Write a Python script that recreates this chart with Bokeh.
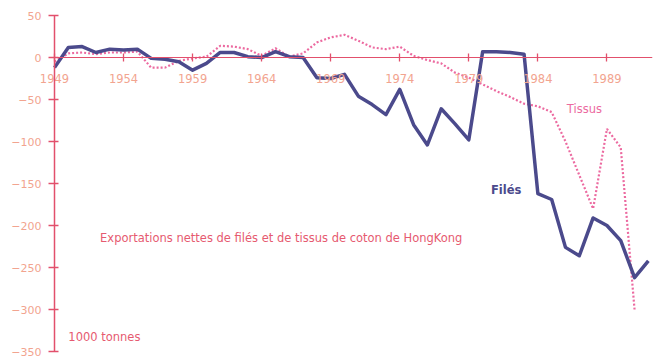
from bokeh.plotting import figure
from bokeh.models import Range1d, FixedTicker, Label, LinearAxis
from bokeh.embed import file_html
from bokeh.resources import INLINE

# ---- data (1000 tonnes) ----
years_files = list(range(1949, 1993))
files = [-12, 12, 13, 6, 10, 9, 10, -1, -2, -5,
         -15, -7, 6, 6, 1, 0, 7, 1, 0, -24,
         -25, -20, -46, -56, -68, -38, -80, -104, -61, -79,
         -98, 7, 7, 6, 4, -162, -169, -226, -236, -191,
         -200, -218, -262, -242]

years_tissus = list(range(1949, 1992))
tissus = [-5, 5, 6, 4, 6, 6, 7, -12, -12, -4,
          -1, 1, 14, 13, 10, 2, 11, 1, 5, 18,
          24, 27, 20, 12, 10, 13, 2, -3, -7, -18,
          -24, -32, -40, -47, -55, -58, -65, -100, -140, -180,
          -85, -107, -300]

x_ticks = [1949, 1954, 1959, 1964, 1969, 1974, 1979, 1984, 1989]
y_ticks = [50, 0, -50, -100, -150, -200, -250, -300, -350]

title_text = "Exportations nettes de filés et de tissus de coton de HongKong"
unit_text = "1000 tonnes"

AXIS = "#e2506c"
TICKLAB = "#f2a48f"
BLUE = "#4b4a8c"
PINK = "#ec6aa0"
TXT = "#e65a70"
FONT = "DejaVu Sans"

X0, X1 = 1945.09, 1992.3
Y0, Y1 = -358.3, 67.9

p = figure(width=660, height=358, output_backend="svg", toolbar_location=None,
           x_range=Range1d(X0, X1), y_range=Range1d(Y0, Y1),
           x_axis_location=None, y_axis_location=None,
           min_border_left=0, min_border_right=8,
           min_border_top=0, min_border_bottom=0)
p.outline_line_color = None
p.grid.visible = False
p.background_fill_color = "white"
p.border_fill_color = "white"

# vertical axis drawn at year 1949
ya = LinearAxis(fixed_location=1949, ticker=FixedTicker(ticks=y_ticks),
                bounds=(-350, 50))
ya.axis_line_color = AXIS
ya.axis_line_width = 1.5
ya.major_tick_line_color = AXIS
ya.major_tick_line_width = 1.5
ya.major_tick_in = 4
ya.major_tick_out = 6
ya.minor_tick_line_color = None
ya.major_label_text_color = TICKLAB
ya.major_label_text_font = FONT
ya.major_label_text_font_size = "11px"
ya.major_label_standoff = 7
p.add_layout(ya, "left")

# horizontal axis drawn at value 0
xa = LinearAxis(fixed_location=0, ticker=FixedTicker(ticks=x_ticks),
                bounds=(1949, X1))
xa.axis_line_color = AXIS
xa.axis_line_width = 1.2
xa.major_tick_line_color = AXIS
xa.major_tick_line_width = 1.3
xa.major_tick_in = 4
xa.major_tick_out = 4
xa.minor_tick_line_color = None
xa.major_label_text_color = TICKLAB
xa.major_label_text_font = FONT
xa.major_label_text_font_size = "11.5px"
xa.major_label_standoff = 12
p.add_layout(xa, "below")

# series
p.line(years_tissus, tissus, line_color=PINK, line_width=2.2, line_dash="2 2")
p.line(years_files, files, line_color=BLUE, line_width=3.5, line_join="round")

# annotations
p.add_layout(Label(x=1952.3, y=-215, text=title_text, text_color=TXT,
                   text_font=FONT, text_font_size="11.5px", text_baseline="middle"))
p.add_layout(Label(x=1950.0, y=-333, text=unit_text, text_color=TXT,
                   text_font=FONT, text_font_size="11.5px", text_baseline="middle"))
p.add_layout(Label(x=1986.1, y=-61, text="Tissus", text_color=PINK,
                   text_font=FONT, text_font_size="11.5px", text_baseline="middle"))
p.add_layout(Label(x=1980.6, y=-158, text="Filés", text_color=BLUE,
                   text_font=FONT, text_font_size="11.5px", text_font_style="bold",
                   text_baseline="middle"))

open("out.html", "w").write(file_html(p, INLINE))
